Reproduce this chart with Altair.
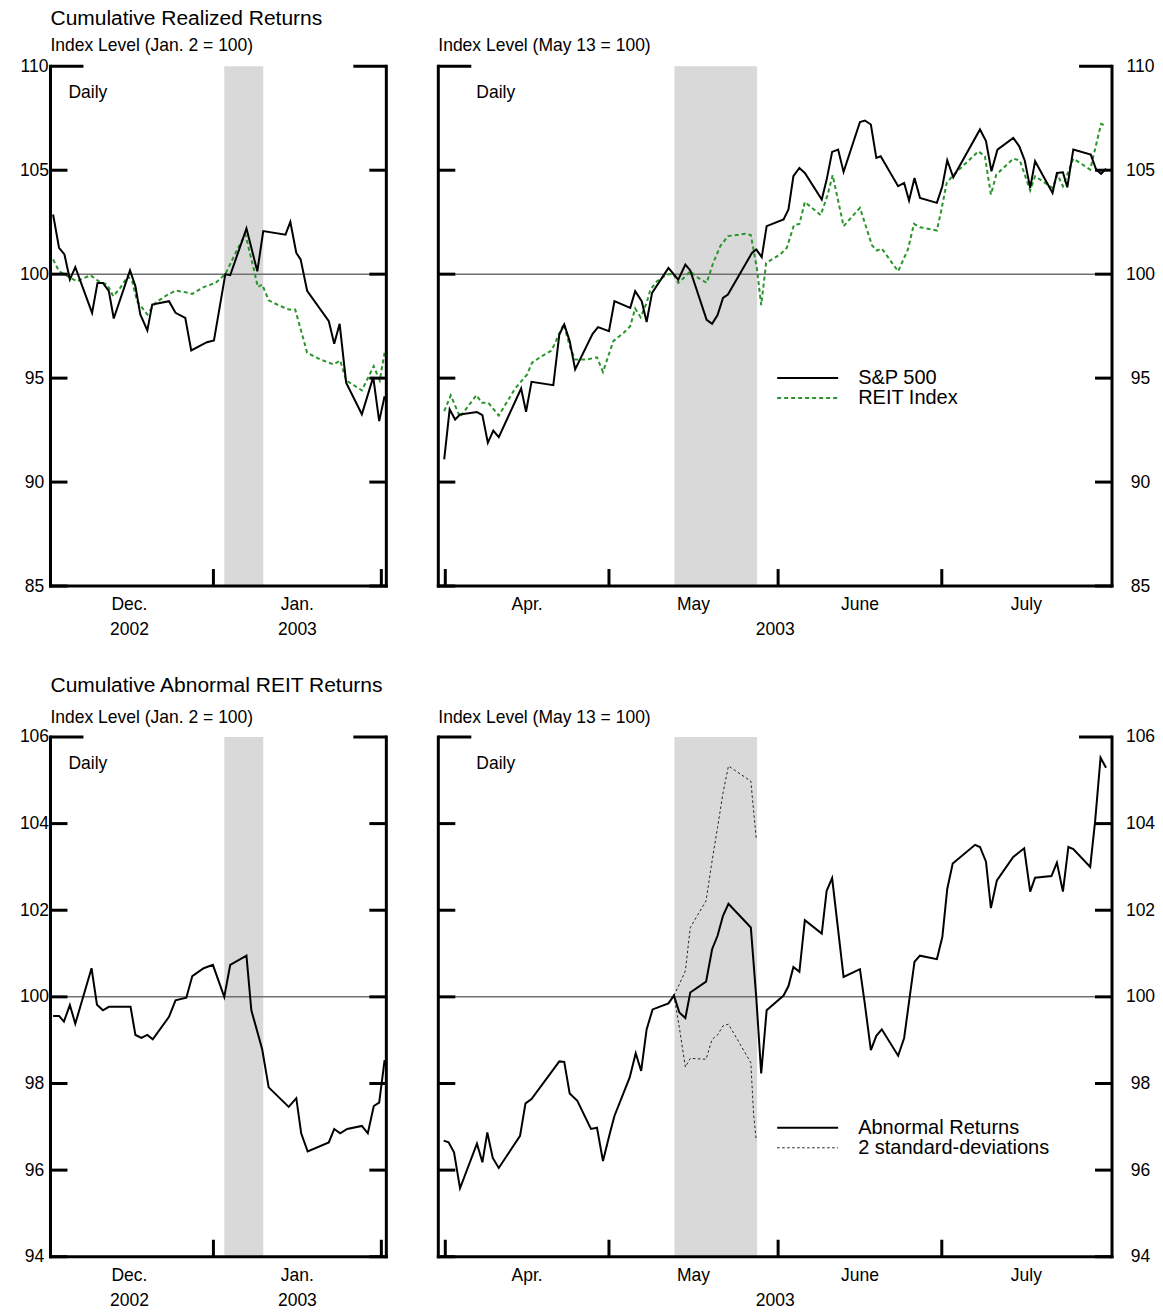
import altair as alt
import pandas as pd

FONT = "Liberation Sans"

# ---------------- data ----------------
# Left panels: x = days from Jan. 1, 2003 ; Right panels: x = days from Apr. 1, 2003
TL_SP_X = [-29.6, -28.5, -27.5, -26.5, -25.5, -22.4, -21.4, -20.4, -19.3, -18.4, -15.4, -14.4, -13.5,
           -12.2, -11.3, -8.2, -7.0, -5.2, -4.1, -1.2, 0.1, 2.2, 3.1, 6.1, 8.1, 9.2, 13.3, 14.2, 15.3,
           16.1, 17.3, 21.3, 22.3, 23.3, 24.5, 27.4, 29.5, 30.6, 31.6]
TL_SP_Y = [102.87, 101.27, 100.95, 99.74, 100.34, 98.14, 99.58, 99.58, 99.18, 97.87, 100.18, 99.42, 98.06,
           97.29, 98.54, 98.70, 98.14, 97.90, 96.33, 96.73, 96.81, 100.0, 99.95, 102.2, 100.14, 102.07, 101.9,
           102.51, 101.02, 100.71, 99.2, 97.74, 96.65, 97.61, 94.78, 93.26, 95.05, 92.93, 94.13]

TL_REIT_X = [-29.6, -28.5, -26.4, -25.2, -22.7, -21.2, -19.6, -18.5, -17.2, -15.8, -15.0, -14.1, -12.2,
             -10.7, -8.9, -7.0, -5.5, -3.9, -1.8, 0.4, 2.2, 4.4, 5.9, 7.4, 8.2, 9.0, 10.2, 12.4, 13.9,
             15.1, 17.3, 19.7, 22.2, 23.4, 24.5, 27.4, 29.6, 30.7, 31.6]
TL_REIT_Y = [100.71, 100.14, 99.82, 99.66, 99.95, 99.66, 99.50, 98.94, 99.34, 99.90, 99.66, 98.70, 98.06,
             98.62, 98.94, 99.21, 99.15, 99.05, 99.38, 99.58, 100.0, 101.19, 101.91, 100.30, 99.38, 99.50,
             98.74, 98.46, 98.30, 98.30, 96.22, 95.90, 95.66, 95.85, 94.89, 94.41, 95.58, 94.89, 96.22]

TR_SP_X = [-0.2, 0.8, 1.8, 2.7, 5.8, 6.8, 7.8, 8.8, 9.8, 13.9, 14.8, 15.8, 19.8, 20.9, 21.8, 22.8, 23.8,
           27.0, 28.0, 30.0, 31.0, 33.9, 34.8, 36.0, 36.9, 37.9, 40.9, 42.7, 44.0, 44.9, 47.9, 48.9, 49.9,
           50.9, 51.8, 56.2, 57.0, 58.0, 58.9, 62.0, 62.9, 63.8, 64.9, 65.9, 69.0, 69.9, 70.9, 72.0, 73.0,
           76.0, 76.9, 78.0, 79.0, 79.8, 83.0, 84.1, 85.0, 86.0, 87.0, 90.1, 91.1, 92.0, 93.1, 98.0, 99.1,
           100.1, 101.2, 104.1, 105.2, 106.2, 107.2, 108.1, 111.3, 112.1, 113.2, 114.0, 115.1, 118.3, 119.3,
           120.2, 121.1]
TR_SP_Y = [91.09, 93.5, 93.01, 93.25, 93.37, 93.22, 91.89, 92.48, 92.16, 94.50, 93.38, 94.82, 94.66, 97.1,
           97.58, 96.78, 95.42, 97.13, 97.45, 97.26, 98.70, 98.38, 99.18, 98.70, 97.7, 99.10, 100.30, 99.74,
           100.46, 100.18, 97.8, 97.61, 98.03, 98.86, 99.02, 101.02, 101.19, 100.82, 102.31, 102.63, 103.11,
           104.71, 105.11, 104.87, 103.59, 104.55, 105.88, 105.99, 104.92, 107.32, 107.39, 107.2, 105.59,
           105.67, 104.23, 104.39, 103.54, 104.63, 103.67, 103.43, 104.23, 105.48, 104.66, 106.96, 106.4,
           104.95, 105.99, 106.55, 106.15, 105.47, 104.15, 105.43, 103.91, 104.87, 104.90, 104.18, 105.99,
           105.75, 105.03, 104.82, 105.08]

TR_REIT_X = [-0.2, 1.0, 2.7, 5.7, 6.7, 7.9, 9.8, 12.8, 15.0, 15.9, 17.7, 19.5, 21.7, 22.9, 23.8, 26.0,
             27.8, 28.9, 30.8, 32.7, 33.9, 34.8, 35.8, 36.9, 37.6, 38.8, 40.6, 41.8, 42.7, 43.7, 44.9,
             46.1, 47.9, 49.1, 50.4, 51.8, 55.0, 56.0, 57.1, 57.9, 58.8, 61.4, 62.6, 63.9, 64.9, 65.9,
             68.8, 70.0, 71.0, 73.0, 76.0, 78.2, 79.1, 80.0, 83.0, 84.8, 85.9, 87.0, 90.1, 91.0, 91.9,
             93.1, 97.7, 98.9, 100.0, 101.0, 104.1, 105.3, 107.2, 108.1, 111.3, 112.2, 113.2, 115.1,
             118.2, 120.2, 121.1]
TR_REIT_Y = [93.41, 94.17, 93.13, 94.18, 93.81, 93.81, 93.2, 94.5, 95.18, 95.74, 96.06, 96.33, 97.61, 96.46,
             95.9, 95.9, 96.0, 95.3, 96.78, 97.18, 97.5, 98.35, 97.93, 98.62, 99.26, 99.66, 99.98, 100.02,
             99.58, 99.82, 100.14, 99.86, 99.58, 100.54, 101.35, 101.83, 101.94, 101.88, 100.3, 98.51,
             100.54, 100.95, 101.27, 102.36, 102.42, 103.47, 102.84, 103.75, 104.76, 102.31, 103.19, 101.39,
             101.14, 101.23, 100.14, 101.19, 102.42, 102.26, 102.10, 103.19, 104.39, 104.76, 105.91, 105.67,
             103.83, 104.79, 105.56, 105.47, 104.03, 104.71, 104.15, 104.79, 104.23, 105.56, 105.03, 107.23,
             107.12]

BL_AB_X = [-29.6, -28.5, -27.6, -26.5, -25.5, -22.5, -21.5, -20.4, -19.3, -15.3, -14.4, -13.3, -12.2,
           -11.2, -8.2, -7.0, -5.0, -3.9, -1.8, -0.1, 2.0, 3.1, 6.1, 7.0, 9.0, 10.2, 13.9, 15.3, 16.2,
           17.4, 21.3, 22.3, 23.4, 24.7, 27.4, 28.5, 29.6, 30.6, 31.6]
BL_AB_Y = [99.56, 99.56, 99.43, 99.81, 99.38, 100.66, 99.82, 99.69, 99.77, 99.77, 99.12, 99.05, 99.12,
           99.02, 99.54, 99.92, 99.98, 100.48, 100.66, 100.74, 100.0, 100.74, 100.95, 99.69, 98.79, 97.91,
           97.46, 97.66, 96.85, 96.43, 96.64, 96.95, 96.85, 96.95, 97.02, 96.85, 97.48, 97.56, 98.54]

BR_AB_X = [-0.3, 0.6, 1.6, 2.7, 5.8, 6.8, 7.7, 8.7, 9.8, 13.7, 14.7, 15.8, 20.9, 21.8, 22.8, 24.2, 26.7,
           27.8, 28.9, 30.2, 31.0, 33.8, 34.9, 35.9, 36.9, 38.0, 40.9, 41.9, 42.9, 44.0, 44.9, 47.8, 48.9,
           49.9, 50.9, 51.9, 56.0, 57.0, 57.9, 58.9, 62.0, 62.9, 63.8, 64.9, 65.9, 69.0, 69.9, 70.9, 73.0,
           76.0, 76.9, 78.0, 79.0, 80.0, 83.0, 84.1, 85.1, 86.0, 87.0, 90.1, 91.1, 92.0, 93.0, 97.1, 98.0,
           99.1, 100.0, 101.1, 104.1, 106.1, 107.2, 108.1, 111.1, 112.1, 113.2, 114.2, 115.1, 118.2, 119.1,
           120.1, 121.1]
BR_AB_Y = [96.68, 96.64, 96.41, 95.58, 96.61, 96.18, 96.87, 96.28, 96.05, 96.79, 97.54, 97.64, 98.51, 98.50,
           97.77, 97.60, 96.95, 96.98, 96.21, 96.87, 97.25, 98.14, 98.70, 98.29, 99.25, 99.71, 99.85,
           100.03, 99.64, 99.51, 100.1, 100.35, 101.1, 101.41, 101.87, 102.15, 101.6, 99.98, 98.23, 99.69,
           100.03, 100.25, 100.69, 100.58, 101.77, 101.46, 102.45, 102.74, 100.46, 100.64, 99.83, 98.77,
           99.1, 99.25, 98.64, 99.05, 99.98, 100.81, 100.95, 100.87, 101.38, 102.49, 103.08, 103.51, 103.46,
           103.12, 102.05, 102.69, 103.23, 103.43, 102.43, 102.75, 102.79, 103.1, 102.43, 103.46, 103.41,
           103.0, 104.05, 105.52, 105.29]

SD_UP_X = [41.9, 42.9, 44.0, 44.9, 47.8, 48.9, 49.9, 50.9, 51.9, 56.0, 57.0]
SD_UP_Y = [100.03, 100.29, 100.6, 101.6, 102.22, 103.14, 103.91, 104.71, 105.33, 104.98, 103.64]
SD_LO_X = [41.9, 42.9, 44.0, 44.9, 47.8, 48.9, 49.9, 50.9, 51.9, 56.0, 56.5, 57.0]
SD_LO_Y = [100.03, 99.29, 98.38, 98.58, 98.56, 99.02, 99.12, 99.33, 99.37, 98.48, 97.3, 96.68]

# event windows (shaded)
LEFT_SHADE = [2.0, 9.2]
RIGHT_SHADE = [42.0, 57.15]

# axes
LEFT_XDOM = [-30.08, 31.92]
RIGHT_XDOM = [-1.28, 122.2]
LEFT_MONTH_START = [0, 31]
RIGHT_MONTH_START = [0, 30, 61, 91]
LEFT_MONTH_MID = [-15.5, 15.5]
LEFT_MONTH_LABELS = ["Dec.", "Jan."]
LEFT_YEAR_LABELS = ["2002", "2003"]
RIGHT_MONTH_MID = [15, 45.5, 76, 106.5]
RIGHT_MONTH_LABELS = ["Apr.", "May", "June", "July"]
TOP_YDOM = [85, 110]
TOP_YTICKS = [85, 90, 95, 100, 105, 110]
BOT_YDOM = [94, 106]
BOT_YTICKS = [94, 96, 98, 100, 102, 104, 106]

WL, WR, H = 336, 674, 520
TICK = 17
TOPTICK = 33
ONE = pd.DataFrame({"a": [0]})


def xenc(field, dom):
    return alt.X(f"{field}:Q", scale=alt.Scale(domain=dom, nice=False, zero=False), axis=None)


def yenc(field, dom, vals, side):
    return alt.Y(f"{field}:Q", scale=alt.Scale(domain=dom, nice=False, zero=False),
                 axis=alt.Axis(orient=side, values=vals, ticks=False, domain=False, grid=False,
                               labelAlign="center", labelPadding=16.5 if side == "left" else 28,
                               labelFontSize=17.5, labelFont=FONT, labelColor="black",
                               labelBaseline="middle", title=None))


def text_at(txt, x, y, size=17.5, align="left"):
    return alt.Chart(ONE).mark_text(text=txt, font=FONT, fontSize=size, align=align,
                                    baseline="middle", color="black").encode(
        x=alt.value(x), y=alt.value(y))


def panel(W, xdom, ydom, yvals, side, shade, mstart, mmid, mlab, ylab, series, daily_x, extras):
    Y = lambda f: yenc(f, ydom, yvals, side)
    X = lambda f: xenc(f, xdom)
    layers = []
    layers.append(alt.Chart(pd.DataFrame({"s0": [shade[0]], "s1": [shade[1]]}))
                  .mark_rect(color="#d9d9d9").encode(x=X("s0"), x2="s1:Q"))
    layers.append(alt.Chart(pd.DataFrame({"v": [100]}))
                  .mark_rule(color="#707070", strokeWidth=1.5).encode(y=Y("v")))
    layers += [s(X, Y) for s in series]
    # y ticks (inward, both sides)
    tv = pd.DataFrame({"v": yvals[:-1]})
    top = pd.DataFrame({"v": [yvals[-1]]})
    layers.append(alt.Chart(tv).mark_rule(color="black", strokeWidth=3).encode(
        y=Y("v"), x=alt.value(0), x2=alt.value(TICK)))
    layers.append(alt.Chart(tv).mark_rule(color="black", strokeWidth=3).encode(
        y=Y("v"), x=alt.value(W - TICK), x2=alt.value(W)))
    layers.append(alt.Chart(top).mark_rule(color="black", strokeWidth=3).encode(
        y=Y("v"), x=alt.value(0), x2=alt.value(TOPTICK)))
    layers.append(alt.Chart(top).mark_rule(color="black", strokeWidth=3).encode(
        y=Y("v"), x=alt.value(W - TOPTICK), x2=alt.value(W)))
    # x ticks at month starts
    layers.append(alt.Chart(pd.DataFrame({"d": mstart})).mark_rule(color="black", strokeWidth=3).encode(
        x=X("d"), y=alt.value(H - TICK), y2=alt.value(H)))
    # frame
    for enc in [dict(x=alt.value(0), y=alt.value(0), y2=alt.value(H)),
                dict(x=alt.value(W), y=alt.value(0), y2=alt.value(H)),
                dict(x=alt.value(0), x2=alt.value(W), y=alt.value(H))]:
        layers.append(alt.Chart(ONE).mark_rule(color="black", strokeWidth=3, strokeCap="square").encode(**enc))
    # month labels
    layers.append(alt.Chart(pd.DataFrame({"d": mmid, "t": mlab})).mark_text(
        font=FONT, fontSize=17.5, baseline="middle", color="black").encode(
        x=X("d"), y=alt.value(H + 19), text="t:N"))
    if ylab is not None:
        layers.append(alt.Chart(pd.DataFrame({"d": mmid, "t": ylab})).mark_text(
            font=FONT, fontSize=17.5, baseline="middle", color="black").encode(
            x=X("d"), y=alt.value(H + 44), text="t:N"))
    else:
        layers.append(text_at("2003", W / 2, H + 44, align="center"))
    layers.append(text_at("Daily", daily_x, 27))
    layers += extras
    return alt.layer(*layers).properties(width=W, height=H)


def line(xs, ys, **kw):
    df = pd.DataFrame({"d": xs, "v": ys})
    return lambda X, Y: alt.Chart(df).mark_line(**kw).encode(x=X("d"), y=Y("v"))


def sd_lines(X, Y):
    df = pd.DataFrame({"d": SD_UP_X + SD_LO_X, "v": SD_UP_Y + SD_LO_Y,
                       "band": ["upper"] * len(SD_UP_X) + ["lower"] * len(SD_LO_X)})
    return alt.Chart(df).mark_line(color="#222222", strokeWidth=1, strokeDash=[2.5, 2.5]).encode(
        x=X("d"), y=Y("v"), detail="band:N")


GREEN = "#2b952b"

tl = panel(WL, LEFT_XDOM, TOP_YDOM, TOP_YTICKS, "left", LEFT_SHADE, LEFT_MONTH_START,
           LEFT_MONTH_MID, LEFT_MONTH_LABELS, LEFT_YEAR_LABELS,
           [line(TL_REIT_X, TL_REIT_Y, color=GREEN, strokeWidth=2, strokeDash=[4, 3]),
            line(TL_SP_X, TL_SP_Y, color="black", strokeWidth=2)],
           18,
           [text_at("Cumulative Realized Returns", 0, -47, size=21),
            text_at("Index Level (Jan. 2 = 100)", 0, -20)])

tr = panel(WR, RIGHT_XDOM, TOP_YDOM, TOP_YTICKS, "right", RIGHT_SHADE, RIGHT_MONTH_START,
           RIGHT_MONTH_MID, RIGHT_MONTH_LABELS, None,
           [line(TR_REIT_X, TR_REIT_Y, color=GREEN, strokeWidth=2, strokeDash=[4, 3]),
            line(TR_SP_X, TR_SP_Y, color="black", strokeWidth=2)],
           38,
           [text_at("Index Level (May 13 = 100)", 0, -20),
            alt.Chart(ONE).mark_rule(color="black", strokeWidth=2).encode(
                x=alt.value(339), x2=alt.value(400), y=alt.value(312)),
            alt.Chart(ONE).mark_rule(color=GREEN, strokeWidth=2, strokeDash=[4, 3]).encode(
                x=alt.value(339), x2=alt.value(400), y=alt.value(332)),
            text_at("S&P 500", 420, 312, size=20),
            text_at("REIT Index", 420, 332, size=20)])

bl = panel(WL, LEFT_XDOM, BOT_YDOM, BOT_YTICKS, "left", LEFT_SHADE, LEFT_MONTH_START,
           LEFT_MONTH_MID, LEFT_MONTH_LABELS, LEFT_YEAR_LABELS,
           [line(BL_AB_X, BL_AB_Y, color="black", strokeWidth=2)],
           18,
           [text_at("Cumulative Abnormal REIT Returns", 0, -51, size=21),
            text_at("Index Level (Jan. 2 = 100)", 0, -19)])

br = panel(WR, RIGHT_XDOM, BOT_YDOM, BOT_YTICKS, "right", RIGHT_SHADE, RIGHT_MONTH_START,
           RIGHT_MONTH_MID, RIGHT_MONTH_LABELS, None,
           [sd_lines, line(BR_AB_X, BR_AB_Y, color="black", strokeWidth=2)],
           38,
           [text_at("Index Level (May 13 = 100)", 0, -19),
            alt.Chart(ONE).mark_rule(color="black", strokeWidth=2).encode(
                x=alt.value(339), x2=alt.value(400), y=alt.value(391)),
            alt.Chart(ONE).mark_rule(color="#222222", strokeWidth=1, strokeDash=[2.5, 2.5]).encode(
                x=alt.value(339), x2=alt.value(400), y=alt.value(411)),
            text_at("Abnormal Returns", 420, 391, size=20),
            text_at("2 standard-deviations", 420, 411, size=20)])

chart = alt.concat(tl, tr, bl, br, columns=2, spacing={"row": 151, "column": 52},
                   bounds="flush", align="each").properties(
    padding={"left": 10.5, "top": 0, "right": 0, "bottom": 0}
).configure_view(strokeWidth=0)

chart.save("out.html", embed_options={"renderer": "svg", "actions": False})
